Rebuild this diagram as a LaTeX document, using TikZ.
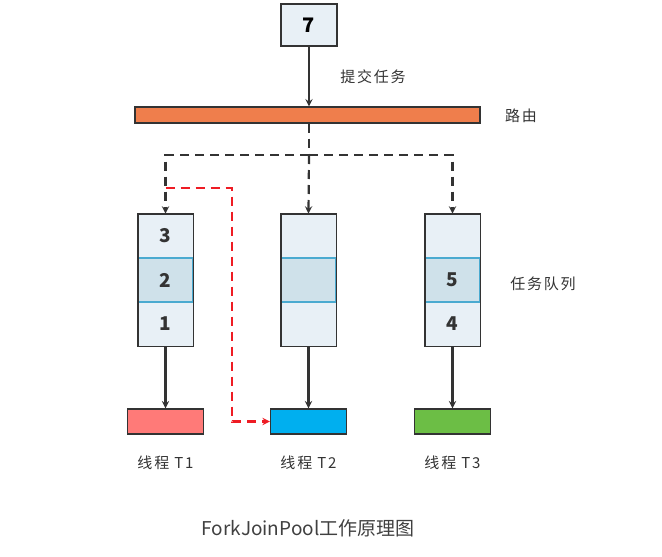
\documentclass[tikz,border=0pt]{standalone}
\usepackage{fontspec}
\newfontfamily\cjk{Noto Sans CJK SC}
\newfontfamily\cjkwide[LetterSpace=12]{Noto Sans CJK SC}
\usepackage{xcolor}
\usepackage{tikz}
\usetikzlibrary{arrows,positioning}

\definecolor{linegray}{HTML}{333333}
\definecolor{cellpale}{HTML}{E8F0F6}
\definecolor{cellmid}{HTML}{CFE1EA}
\definecolor{divider}{HTML}{4AAAD0}
\definecolor{routeorange}{HTML}{EF7E4C}
\definecolor{threadred}{HTML}{FF7A78}
\definecolor{threadblue}{HTML}{00AFEF}
\definecolor{threadgreen}{HTML}{6CBE45}
\definecolor{stealred}{HTML}{EE1C24}

\begin{document}
\begin{tikzpicture}[x=1pt, y=-1pt, thick, font=\cjk]
    % Stili
    \tikzstyle{task}=[rectangle, draw=linegray, line width=1.4pt, fill=cellpale, minimum width=56pt, minimum height=42pt, inner sep=0pt, font=\cjk\bfseries\fontsize{20}{20}\selectfont]
    \tikzstyle{cell}=[rectangle, fill=cellpale, minimum width=55pt, minimum height=44pt, inner sep=0pt, font=\cjk\bfseries\fontsize{19}{19}\selectfont, text=linegray]
    \tikzstyle{midcell}=[cell, fill=cellmid, draw=divider, line width=1.6pt]
    \tikzstyle{frame}=[draw=linegray, line width=1.8pt]
    \tikzstyle{thread}=[rectangle, draw=linegray, line width=1.4pt, minimum width=76pt, minimum height=25pt, inner sep=0pt]
    \tikzstyle{label}=[font=\cjkwide\fontsize{15}{15}\selectfont, text=linegray]
    \tikzstyle{arrow}=[->, >=stealth, line width=2.2pt, draw=linegray]
    \tikzstyle{dasharrow}=[arrow, dash pattern=on 9pt off 6pt]
    \tikzstyle{stealarrow}=[->, >=stealth, line width=2.2pt, draw=stealred, dash pattern=on 9pt off 6pt]

    \useasboundingbox (0,0) rectangle (662,557);

    % Task in ingresso e router
    \node (seven) [task] at (309,25) {7};
    \node (bar) [rectangle, draw=linegray, line width=1.2pt, fill=routeorange, minimum width=345pt, minimum height=16pt, inner sep=0pt] at (307.5,115) {};
    \node (submit) [label] at (373,77) {提交任务};
    \node (route) [label] at (521,116) {路由};

    % Code dei task
    \node (q1a) [cell] at (165.5,236) {3};
    \node (q1c) [cell] at (165.5,324) {1};
    \node (q1b) [midcell] at (165.5,280) {2};
    \node (q2a) [cell] at (308.5,236) {};
    \node (q2c) [cell] at (308.5,324) {};
    \node (q2b) [midcell] at (308.5,280) {};
    \node (q3a) [cell] at (452.5,236) {};
    \node (q3c) [cell] at (452.5,324) {4};
    \node (q3b) [midcell] at (452.5,280) {5};
    \node (queue) [label] at (543,284) {任务队列};

    \draw [frame] (q1a.north west) rectangle (q1c.south east);
    \draw [frame] (q2a.north west) rectangle (q2c.south east);
    \draw [frame] (q3a.north west) rectangle (q3c.south east);

    % Thread
    \node (t1) [thread, fill=threadred] at (165.5,421.5) {};
    \node (t2) [thread, fill=threadblue] at (308.5,421.5) {};
    \node (t3) [thread, fill=threadgreen] at (452.5,421.5) {};
    \node (l1) [label, below=17pt of t1] {线程 T1};
    \node (l2) [label, below=17pt of t2] {线程 T2};
    \node (l3) [label, below=17pt of t3] {线程 T3};

    \node (caption) [font=\cjk\fontsize{19}{19}\selectfont, text=black!75] at (308,528) {ForkJoinPool工作原理图};

    % Collegamenti
    \coordinate (split) at (309,155);
    \coordinate (redstart) at (165.5,188);
    \coordinate (redtop) at (232,188);
    \draw [arrow] (seven.south) -- (seven.south |- bar.north);
    \draw [line width=2.2pt, draw=linegray, dash pattern=on 9pt off 6pt] (split |- bar.south) -- (split);
    \draw [dasharrow] (split) -| (q1a.north);
    \draw [dasharrow] (split) -- (q2a.north);
    \draw [dasharrow] (split) -| (q3a.north);
    \draw [stealarrow] (redstart) -- (redtop) |- (t2.west);
    \draw [arrow] (q1c.south) -- (t1.north);
    \draw [arrow] (q2c.south) -- (t2.north);
    \draw [arrow] (q3c.south) -- (t3.north);

\end{tikzpicture}
\end{document}
